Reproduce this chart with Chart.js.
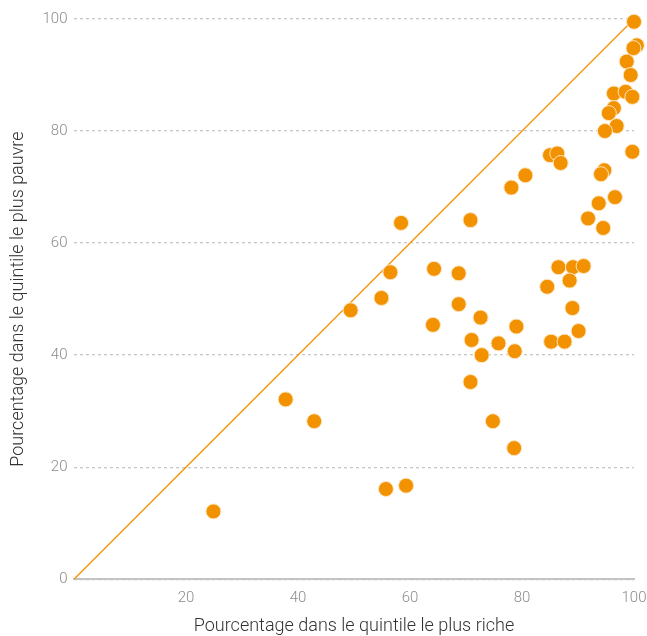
<!DOCTYPE html>
<html>
<head>
<meta charset="utf-8">
<script src="https://cdn.jsdelivr.net/npm/chart.js@4/dist/chart.umd.min.js"></script>
<style>
html,body{margin:0;padding:0;background:#fff;overflow:hidden;}
canvas{display:block;}
</style>
</head>
<body>
<canvas id="c" width="647" height="636" style="width:647px;height:636px"></canvas>
<script>
// Pourcentage dans le quintile le plus riche (x) vs le plus pauvre (y)
const richest = [100, 100.5, 99.9, 98.7, 99.4, 96.4, 98.5, 99.7, 96.4, 95.5,
  96.9, 94.8, 99.7, 85.0, 86.3, 86.9, 80.6, 78.1, 94.7, 94.1,
  96.6, 93.7, 91.8, 94.5, 86.5, 89.1, 91.0, 88.5, 84.5, 89.0,
  90.1, 85.2, 87.6, 68.7, 68.7, 72.6, 79.0, 71.0, 75.8, 78.7,
  72.8, 70.8, 74.8, 78.6, 70.8, 64.3, 64.1, 58.4, 56.5, 54.9,
  49.4, 24.9, 37.8, 42.9, 55.7, 59.3];
const poorest = [99.5, 95.3, 94.8, 92.4, 90.0, 86.7, 87.0, 86.1, 84.1, 83.2,
  80.9, 80.0, 76.3, 75.7, 76.0, 74.3, 72.1, 69.9, 73.0, 72.3,
  68.2, 67.1, 64.4, 62.7, 55.7, 55.7, 55.9, 53.3, 52.2, 48.4,
  44.3, 42.4, 42.4, 54.6, 49.1, 46.7, 45.1, 42.7, 42.1, 40.7,
  40.0, 35.2, 28.2, 23.4, 64.1, 55.4, 45.4, 63.6, 54.8, 50.2,
  48.0, 12.1, 32.1, 28.2, 16.1, 16.7];
const equalityLine = [0, 100];
const xTicks = [20, 40, 60, 80, 100];
const yTicks = [0, 20, 40, 60, 80, 100];

const xTitle = 'Pourcentage dans le quintile le plus riche';
const yTitle = 'Pourcentage dans le quintile le plus pauvre';

const orange = '#F39200';
const pts = richest.map((x, i) => ({x: x, y: poorest[i]}));
const diag = equalityLine.map(v => ({x: v, y: v}));

new Chart(document.getElementById('c'), {
  data: {
    datasets: [
      {
        type: 'line',
        data: diag,
        borderColor: orange,
        borderWidth: 1.3,
        pointRadius: 0,
        fill: false,
        order: 2
      },
      {
        type: 'scatter',
        data: pts,
        backgroundColor: orange,
        borderColor: '#FCE6C4',
        borderWidth: 1,
        pointRadius: 7.5,
        pointHoverRadius: 7.5,
        order: 1,
        clip: false
      }
    ]
  },
  options: {
    responsive: false,
    animation: false,
    layout: {autoPadding: false, padding: {top: 19, right: 0, left: 7.2, bottom: 0}},
    plugins: {legend: {display: false}, tooltip: {enabled: false}},
    scales: {
      x: {
        type: 'linear',
        min: 0, max: 100,
        afterBuildTicks: s => { s.ticks = xTicks.map(v => ({value: v})); },
        grid: {display: true, drawOnChartArea: false, drawTicks: true, tickLength: 9.5, tickColor: 'rgba(0,0,0,0)'},
        border: {display: true, color: '#C4C4C4', width: 2},
        ticks: {color: '#8C8C8C', font: {family: 'Roboto', size: 15, weight: 300}, padding: 0.5},
        title: {display: true, text: xTitle, color: '#333', font: {family: 'Roboto', size: 18, weight: 300}, padding: {top: 7.7, bottom: -1}}
      },
      y: {
        type: 'linear',
        min: 0, max: 100,
        afterBuildTicks: s => { s.ticks = yTicks.map(v => ({value: v})); },
        grid: {display: true, drawTicks: false, color: '#C8C8C8', lineWidth: 1.3},
        border: {display: false, dash: [3, 3]},
        ticks: {color: '#8C8C8C', font: {family: 'Roboto', size: 15, weight: 300}, padding: 6.5},
        title: {display: true, text: yTitle, color: '#333', font: {family: 'Roboto', size: 18, weight: 300}, padding: {top: 0, bottom: 7.2}}
      }
    }
  }
});
</script>
</body>
</html>
